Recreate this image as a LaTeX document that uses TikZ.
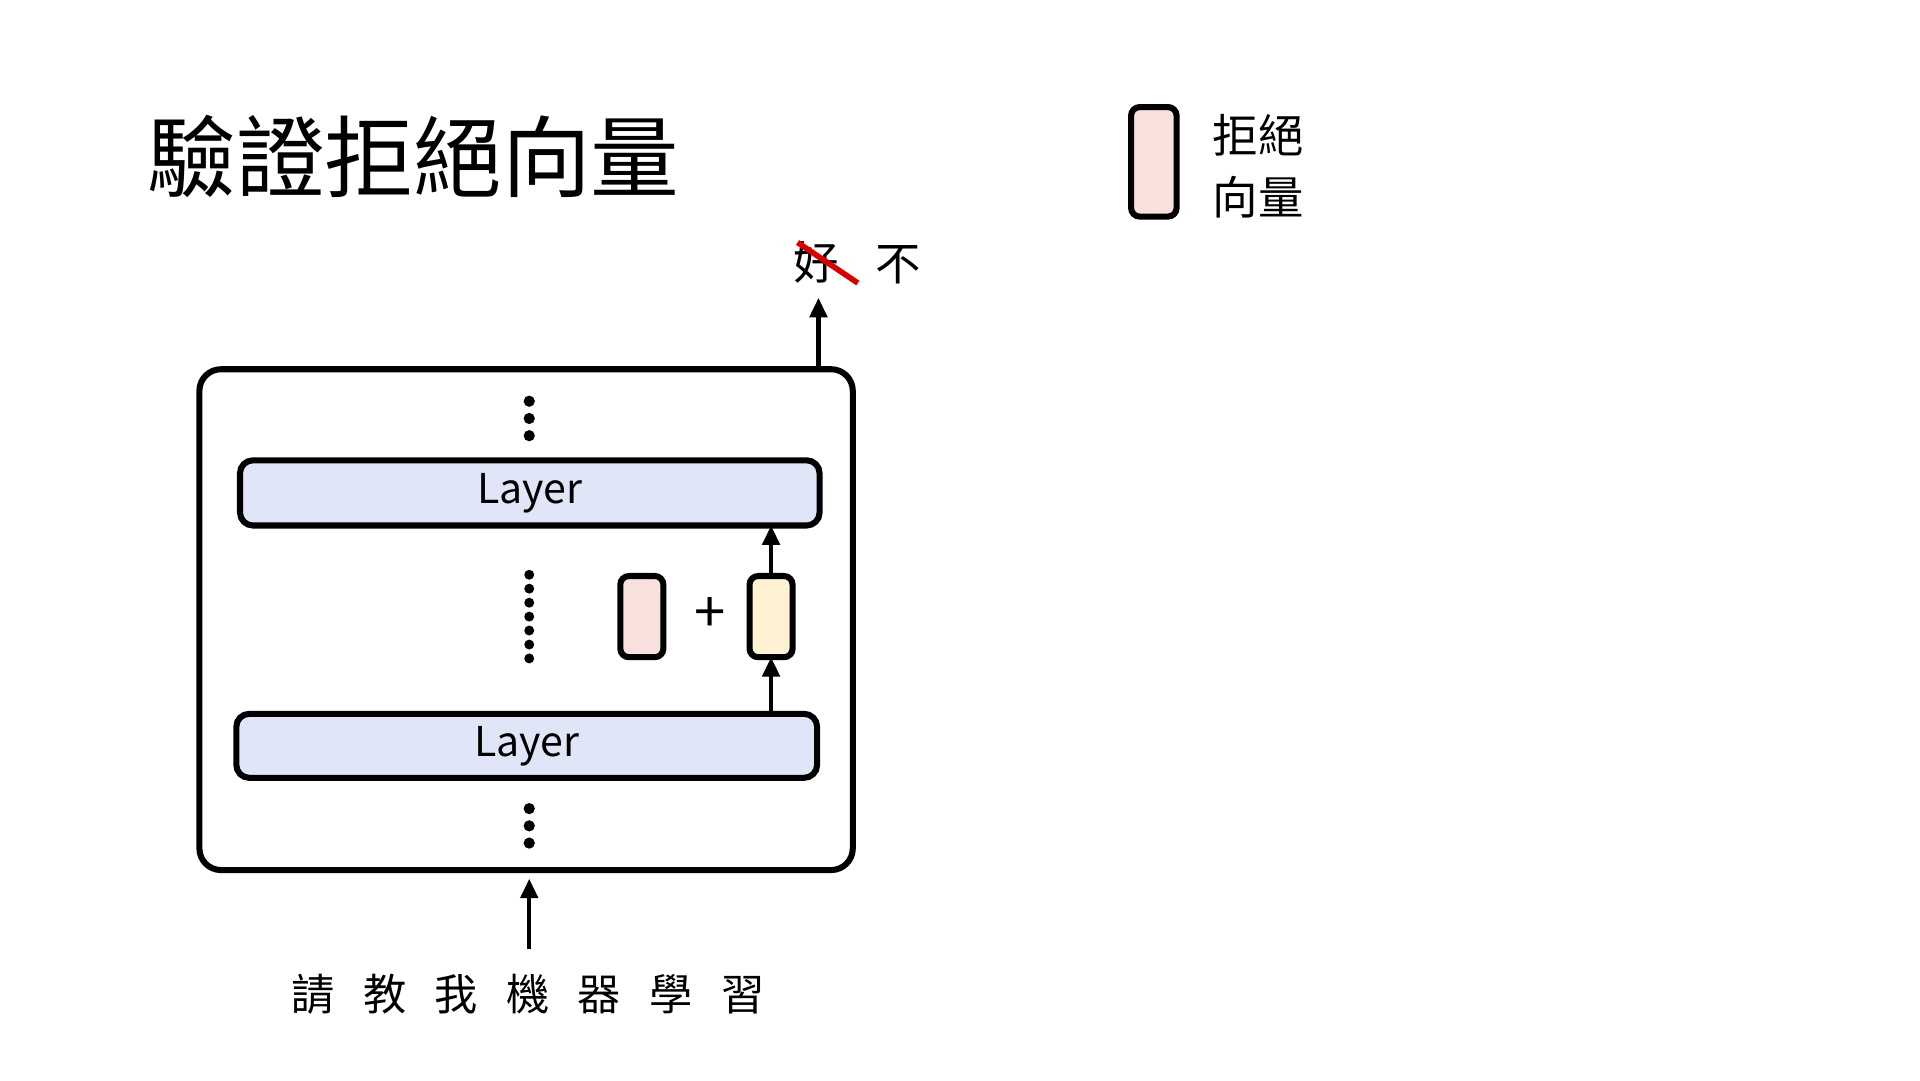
\documentclass[tikz,border=0pt]{standalone}
\usepackage{fontspec}
\setmainfont{Noto Sans CJK TC}
\usetikzlibrary{arrows.meta}
\definecolor{layerblue}{HTML}{E0E6F8}
\definecolor{rejectpink}{HTML}{F8E0DC}
\definecolor{hiddenyellow}{HTML}{FFF2D2}
\begin{document}
\begin{tikzpicture}[x=0.02cm, y=-0.02cm, line width=2.8pt,
  box/.style={rectangle, draw=black, rounded corners=6pt, inner sep=0pt, outer sep=0pt, anchor=north west},
  layer/.style={box, fill=layerblue, font=\fontsize{19}{19}\selectfont},
  vec/.style={box, rounded corners=4pt, minimum width=0.7cm, minimum height=1.32cm},
  txt/.style={font=\fontsize{#1}{#1}\selectfont, inner sep=0pt},
  txt/.default=21,
  arr/.style={-{Triangle[length=9pt,width=8pt]}, line width=2pt}]
\useasboundingbox (0,0) rectangle (1560,878);

% title and legend
\node [txt=41] (title) at (336,127) {驗證拒絕向量};
\node [vec, fill=rejectpink, minimum width=0.74cm, minimum height=1.78cm] (legend) at (919,87) {};
\node [txt, align=left, anchor=west] (legendtext) at (983,135) {拒絕\\[8pt]向量};

% model
\node [box, rounded corners=10pt, minimum width=10.62cm, minimum height=8.14cm] (model) at (162,300) {};
\node [layer, minimum width=9.42cm, minimum height=1.06cm] (L2) at (195,374) {Layer};
\node [layer, minimum width=9.44cm, minimum height=1.04cm] (L1) at (192,580) {Layer};
\node [vec, fill=rejectpink] (reject) at (504,468) {};
\node [txt=26] (plus) at (577,500) {+};
\node [vec, fill=hiddenyellow] (hidden) at (609,468) {};

% dots
\foreach \y in {326,340,354} \fill (430,\y) circle (2.6pt);
\foreach \y in {467,478.3,489.7,501,512.3,523.7,535} \fill (430,\y) circle (2.3pt);
\foreach \y in {657,671,685} \fill (430,\y) circle (2.6pt);

\draw [arr] (L1.north -| hidden.south) -- (hidden.south);
\draw [arr] (hidden.north) -- (L2.south -| hidden.north);

% input and output
\node [txt=20] (input) at (429,808) {請\hspace{0.46cm}教\hspace{0.46cm}我\hspace{0.46cm}機\hspace{0.46cm}器\hspace{0.46cm}學\hspace{0.46cm}習};
\coordinate (inTop) at (430,714);
\draw [arr] (430,771) -- (inTop);
\node [txt] (good) at (663,213) {好};
\node [txt] (no) at (730,215) {不};
\coordinate (outTop) at (665,242);
\draw [arr] (model.north -| outTop) -- (outTop);
\draw [red!85!black, line width=2.6pt] (good.center) ++(-15,-16) -- ++(49,33);
\end{tikzpicture}
\end{document}
